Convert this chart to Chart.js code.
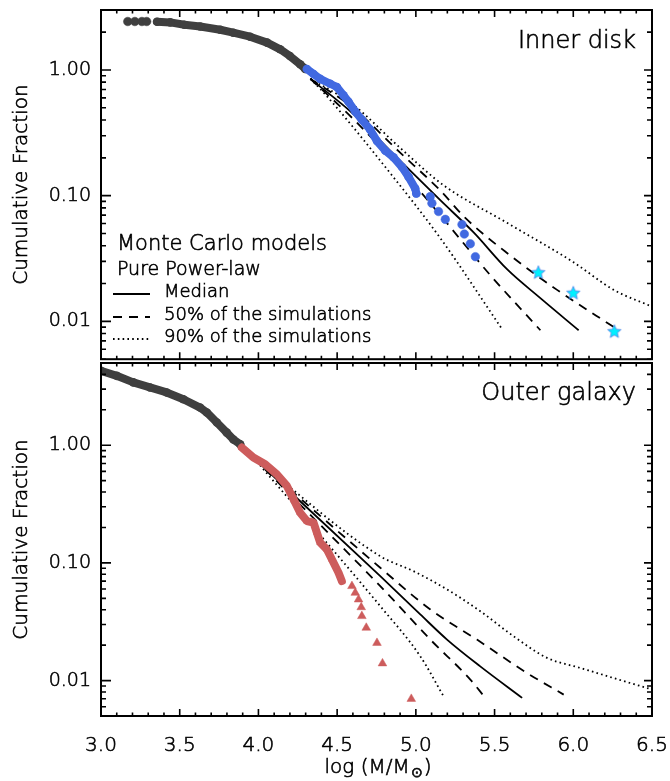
<!DOCTYPE html>
<html>
<head>
<meta charset="utf-8">
<script src="https://cdn.jsdelivr.net/npm/chart.js@4.4.1/dist/chart.umd.min.js"></script>
<style>
  html, body { margin: 0; padding: 0; background: #fff; }
  #wrap { position: relative; width: 670px; height: 781px; }
  #wrap canvas { position: absolute; left: 0; }
</style>
</head>
<body>
<div id="wrap">
  <canvas id="innerChart" width="670" height="364" style="top:0"></canvas>
  <canvas id="outerChart" width="670" height="428" style="top:353px"></canvas>
</div>
<script>
// axis ticks
var xTickValues = [3.0, 3.5, 4.0, 4.5, 5.0, 5.5, 6.0, 6.5];
var yTickValues = [0.01, 0.1, 1];
var yTickLabels = ["0.01", "0.10", "1.00"];

// ---- Inner disk ----
var innerGrayDotsX = [3.17, 3.215, 3.26, 3.29];
var innerGrayDotsY = [2.43, 2.43, 2.43, 2.43];
var innerGrayX = [3.356, 3.44, 3.53, 3.63, 3.757, 3.84, 3.947, 4.055, 4.138, 4.2, 4.265, 4.297];
var innerGrayY = [2.42, 2.39, 2.29, 2.22, 2.09, 1.98, 1.84, 1.65, 1.46, 1.29, 1.11, 1.02];
var innerBlueX = [4.308, 4.35, 4.392, 4.456, 4.498, 4.54, 4.572, 4.615, 4.657, 4.71, 4.753, 4.806, 4.858, 4.912, 4.954, 4.996, 5.003];
var innerBlueY = [1.018, 0.93, 0.85, 0.777, 0.732, 0.63, 0.559, 0.467, 0.402, 0.335, 0.272, 0.228, 0.202, 0.169, 0.141, 0.114, 0.104];
var innerBlueDotsX = [5.091, 5.102, 5.144, 5.187, 5.293, 5.308, 5.346, 5.378];
var innerBlueDotsY = [0.0982, 0.087, 0.0748, 0.0648, 0.059, 0.0495, 0.0414, 0.0327];
var innerStarX = [5.778, 6.0, 6.261];
var innerStarY = [0.0246, 0.0169, 0.00835];

var innerMedianX = [4.33, 4.6, 4.9, 5.155, 5.367, 5.579, 5.791, 6.034];
var innerMedianY = [0.85, 0.45, 0.19, 0.092, 0.051, 0.026, 0.0153, 0.0085];
var innerLow50X = [4.33, 4.6, 4.9, 5.155, 5.473, 5.791];
var innerLow50Y = [0.85, 0.41, 0.165, 0.07, 0.0233, 0.0085];
var innerHigh50X = [4.33, 4.6, 4.9, 5.155, 5.314, 5.6, 5.897, 6.27];
var innerHigh50Y = [0.85, 0.5, 0.22, 0.11, 0.0665, 0.0334, 0.0178, 0.0088];
var innerLow90X = [4.33, 4.41, 4.856, 5.155, 5.547];
var innerLow90Y = [0.85, 0.67, 0.141, 0.046, 0.0087];
var innerHigh90X = [4.33, 4.6, 4.9, 5.176, 5.579, 6.0, 6.257, 6.5];
var innerHigh90Y = [0.85, 0.53, 0.24, 0.121, 0.0608, 0.0296, 0.0178, 0.0131];

// ---- Outer galaxy ----
var outerGrayX = [3.0, 3.1, 3.205, 3.311, 3.417, 3.523, 3.629, 3.672, 3.736, 3.799, 3.841, 3.884];
var outerGrayY = [4.29, 3.89, 3.42, 3.10, 2.81, 2.46, 2.09, 1.90, 1.56, 1.28, 1.12, 1.02];
var outerRedX = [3.894, 3.968, 4.043, 4.117, 4.181, 4.223, 4.265, 4.308, 4.35, 4.371, 4.392, 4.435, 4.467, 4.509, 4.53];
var outerRedY = [0.956, 0.786, 0.689, 0.567, 0.451, 0.347, 0.267, 0.227, 0.22, 0.181, 0.149, 0.13, 0.107, 0.0826, 0.07];
var outerTriX = [4.594, 4.615, 4.636, 4.653, 4.657, 4.685, 4.753, 4.788, 4.971];
var outerTriY = [0.0635, 0.0557, 0.0489, 0.042, 0.0353, 0.0281, 0.0209, 0.014, 0.00699];

var outerMedianX = [3.97, 4.774, 5.028, 5.198, 5.409, 5.675];
var outerMedianY = [0.78, 0.0772, 0.0365, 0.0223, 0.0132, 0.00713];
var outerLow50X = [3.97, 4.774, 5.092, 5.346, 5.441];
var outerLow50Y = [0.78, 0.0635, 0.0223, 0.0102, 0.00713];
var outerHigh50X = [3.97, 4.774, 5.092, 5.388, 5.706, 5.939];
var outerHigh50Y = [0.78, 0.091, 0.0402, 0.0223, 0.0116, 0.0076];
var outerLow90X = [3.97, 4.774, 5.028, 5.176];
var outerLow90Y = [0.78, 0.0429, 0.0161, 0.00735];
var outerHigh90X = [3.97, 4.774, 4.985, 5.198, 5.409, 5.621, 5.833, 6.045, 6.257, 6.5];
var outerHigh90Y = [0.78, 0.114, 0.0851, 0.0595, 0.0389, 0.0238, 0.0156, 0.0128, 0.0105, 0.0084];

var FONT = "'DejaVu Sans', sans-serif";
var W = "200 ";
var GRAY = "#3f3f3f", BLUE = "#4169e1", RED = "#cd5c5c";

function pts(xs, ys) {
  return xs.map(function (x, i) { return { x: x, y: ys[i] }; });
}

function makeStar(r) {
  var c = document.createElement("canvas");
  var s = Math.ceil(r * 2 + 4);
  c.width = s; c.height = s;
  var g = c.getContext("2d");
  g.beginPath();
  for (var i = 0; i < 10; i++) {
    var a = -Math.PI / 2 + i * Math.PI / 5;
    var rr = i % 2 ? r * 0.45 : r;
    g.lineTo(s / 2 + rr * Math.cos(a), s / 2 + 0.6 + rr * Math.sin(a));
  }
  g.closePath();
  g.fillStyle = "#00f0ff";
  g.fill();
  g.strokeStyle = "#4f7cea";
  g.lineWidth = 0.8;
  g.stroke();
  return c;
}

function band(xs, ys, color, style) {
  return {
    data: pts(xs, ys), showLine: true, borderColor: color, borderWidth: 8,
    borderCapStyle: "round", borderJoinStyle: "round",
    pointStyle: style || "circle", pointRadius: 4.3, pointBackgroundColor: color,
    pointBorderWidth: 0, clip: 0
  };
}
function dots(xs, ys, color, style, r) {
  return {
    data: pts(xs, ys), showLine: false, pointStyle: style || "circle",
    pointRadius: r || 4.3, pointBackgroundColor: color, pointBorderColor: color,
    pointBorderWidth: 0.5, clip: 0
  };
}
function model(xs, ys, dash) {
  return {
    data: pts(xs, ys), showLine: true, borderColor: "#000", borderWidth: 1.8,
    borderDash: dash, cubicInterpolationMode: "monotone", pointRadius: 0, clip: 0
  };
}

var DASH = [9, 7], DOT = [1.6, 3.2];

function txt(ctx, s, x, y) {
  ctx.strokeText(s, x, y);
  ctx.fillText(s, x, y);
}

// inward ticks on all four sides + frame + y title
var frameTicks = {
  id: "frameTicks",
  afterDatasetsDraw: function (chart) {
    var ctx = chart.ctx, a = chart.chartArea, xs = chart.scales.x, ys = chart.scales.y;
    ctx.save();
    ctx.strokeStyle = "#000";
    ctx.lineWidth = 2;
    ctx.strokeRect(a.left, a.top, a.right - a.left, a.bottom - a.top);
    ctx.lineWidth = 1.6;
    ctx.beginPath();
    for (var i = 0; i <= 35; i++) {
      var px = xs.getPixelForValue(3 + i * 0.1);
      var len = i % 5 === 0 ? 7 : 3.5;
      ctx.moveTo(px, a.bottom); ctx.lineTo(px, a.bottom - len);
      ctx.moveTo(px, a.top); ctx.lineTo(px, a.top + len);
    }
    for (var e = -3; e <= 1; e++) {
      for (var m = 1; m <= 9; m++) {
        var val = m * Math.pow(10, e);
        if (val < ys.min * 0.999 || val > ys.max * 1.001) continue;
        var py = ys.getPixelForValue(val);
        ctx.moveTo(a.left, py); ctx.lineTo(a.left + (m === 1 ? 10 : 5), py);
        ctx.moveTo(a.right, py); ctx.lineTo(a.right - (m === 1 ? 8 : 5), py);
      }
    }
    ctx.stroke();
    // y-axis title
    ctx.translate(27, (a.top + a.bottom) / 2);
    ctx.rotate(-Math.PI / 2);
    ctx.font = W + "20px " + FONT;
    ctx.textAlign = "center";
    ctx.textBaseline = "alphabetic";
    ctx.fillStyle = "#000";
    ctx.lineWidth = 0.6;
    txt(ctx, "Cumulative Fraction", 0, 0);
    ctx.restore();
  }
};

function scalesFor(yMin, yMax, showX) {
  return {
    x: {
      type: "linear", min: 3, max: 6.5,
      grid: { display: false, drawTicks: false },
      border: { display: false },
      afterBuildTicks: function (s) { s.ticks = xTickValues.map(function (v) { return { value: v }; }); },
      ticks: {
        display: showX, padding: 18, color: "#000", font: { family: FONT, size: 20, weight: 200 },
        textStrokeColor: "#000", textStrokeWidth: 0.6,
        callback: function (v) { return Number(v).toFixed(1); }
      },
      afterFit: function (s) { s.height = showX ? 65 : 0; s.paddingLeft = 0; s.paddingRight = 0; }
    },
    y: {
      type: "logarithmic", min: yMin, max: yMax,
      grid: { display: false, drawTicks: false },
      border: { display: false },
      afterBuildTicks: function (s) { s.ticks = yTickValues.map(function (v) { return { value: v }; }); },
      ticks: {
        padding: 10, color: "#000", font: { family: FONT, size: 19, weight: 200 }, autoSkip: false,
        textStrokeColor: "#000", textStrokeWidth: 0.6,
        callback: function (v, i) { return yTickLabels[i]; }
      },
      afterFit: function (s) { s.width = 101; s.paddingTop = 0; s.paddingBottom = 0; }
    }
  };
}

var baseOpts = function (yMin, yMax, showX, bottomPad) {
  return {
    responsive: false, animation: false, events: [],
    layout: { padding: { left: 0, right: 18, top: 10, bottom: bottomPad } },
    plugins: { legend: { display: false }, tooltip: { enabled: false } },
    scales: scalesFor(yMin, yMax, showX)
  };
};

var innerText = {
  id: "innerText",
  afterDraw: function (chart) {
    var ctx = chart.ctx;
    ctx.save();
    ctx.fillStyle = "#000";
    ctx.strokeStyle = "#000";
    ctx.lineWidth = 0.6;
    ctx.textBaseline = "alphabetic";
    ctx.textAlign = "right";
    ctx.font = W + "24px " + FONT;
    txt(ctx, "Inner disk", 636, 48);
    ctx.textAlign = "left";
    ctx.font = W + "21px " + FONT;
    txt(ctx, "Monte Carlo models", 117, 250);
    ctx.font = W + "19px " + FONT;
    txt(ctx, "Pure Power-law", 117, 275);
    ctx.font = W + "18px " + FONT;
    var rows = [["Median", [], 297], ["50% of the simulations", DASH, 320], ["90% of the simulations", DOT, 342]];
    rows.forEach(function (r) {
      ctx.setLineDash([]);
      ctx.lineWidth = 0.6;
      txt(ctx, r[0], 164, r[2]);
      ctx.beginPath();
      ctx.setLineDash(r[1]);
      ctx.lineWidth = 1.8;
      ctx.moveTo(113, r[2] - 3);
      ctx.lineTo(150, r[2] - 3);
      ctx.stroke();
    });
    ctx.restore();
  }
};

var outerText = {
  id: "outerText",
  afterDraw: function (chart) {
    var ctx = chart.ctx;
    ctx.save();
    ctx.fillStyle = "#000";
    ctx.strokeStyle = "#000";
    ctx.lineWidth = 0.6;
    ctx.textAlign = "right";
    ctx.textBaseline = "alphabetic";
    ctx.font = W + "24px " + FONT;
    txt(ctx, "Outer galaxy", 636, 47);
    // x-axis title with subscript sun symbol
    var y = 420;
    ctx.textAlign = "left";
    ctx.font = W + "20px " + FONT;
    var t1 = "log (M/M", t2 = "\u2299", t3 = ")";
    var w1 = ctx.measureText(t1).width, w3 = ctx.measureText(t3).width;
    ctx.font = W + "14px " + FONT;
    var w2 = ctx.measureText(t2).width;
    var x0 = 377 - (w1 + w2 + w3) / 2;
    ctx.font = W + "20px " + FONT;
    txt(ctx, t1, x0, y);
    ctx.font = W + "14px " + FONT;
    txt(ctx, t2, x0 + w1 + 1, y + 4);
    ctx.font = W + "20px " + FONT;
    txt(ctx, t3, x0 + w1 + w2 + 2, y);
    ctx.restore();
  }
};

var star = makeStar(7);

new Chart("innerChart", {
  type: "scatter",
  data: {
    datasets: [
      dots(innerStarX, innerStarY, "#00f0ff", star),
      dots(innerBlueDotsX, innerBlueDotsY, BLUE),
      band(innerBlueX, innerBlueY, BLUE),
      dots(innerGrayDotsX, innerGrayDotsY, GRAY),
      band(innerGrayX, innerGrayY, GRAY),
      model(innerMedianX, innerMedianY, []),
      model(innerLow50X, innerLow50Y, DASH),
      model(innerHigh50X, innerHigh50Y, DASH),
      model(innerLow90X, innerLow90Y, DOT),
      model(innerHigh90X, innerHigh90Y, DOT)
    ]
  },
  options: baseOpts(0.005, 3, false, 1),
  plugins: [frameTicks, innerText]
});

new Chart("outerChart", {
  type: "scatter",
  data: {
    datasets: [
      dots(outerTriX, outerTriY, RED, "triangle", 5),
      band(outerRedX, outerRedY, RED, "triangle"),
      band(outerGrayX, outerGrayY, GRAY),
      model(outerMedianX, outerMedianY, []),
      model(outerLow50X, outerLow50Y, DASH),
      model(outerHigh50X, outerHigh50Y, DASH),
      model(outerLow90X, outerLow90Y, DOT),
      model(outerHigh90X, outerHigh90Y, DOT)
    ]
  },
  options: baseOpts(0.005, 5, true, 0),
  plugins: [frameTicks, outerText]
});
</script>
</body>
</html>
